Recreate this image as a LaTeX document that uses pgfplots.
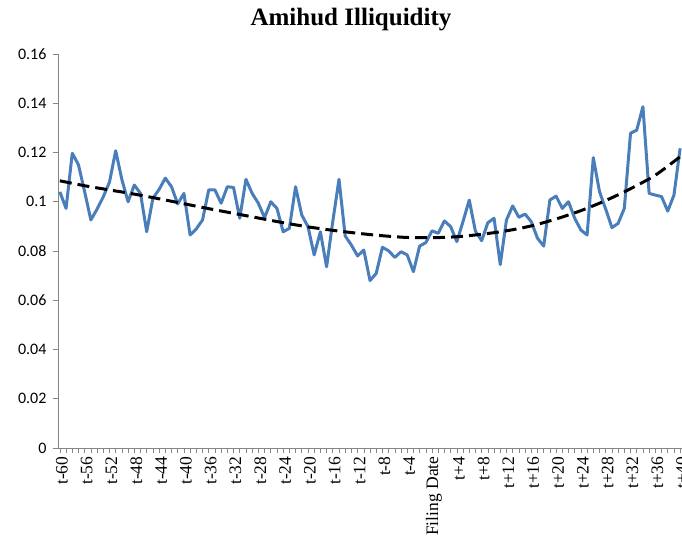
\documentclass[border=0pt]{standalone}
\usepackage{fontspec}
\setmainfont{Liberation Serif}
\newfontfamily\carlito{Carlito}
\usepackage{pgfplots}
\usepackage{pgfplotstable}
\pgfplotsset{compat=1.18}
\definecolor{exblue}{HTML}{4A7EBB}
\definecolor{axgray}{HTML}{868686}

\pgfplotstableread{
i v
0 0.1040
1 0.0973
2 0.1197
3 0.1150
4 0.1040
5 0.0926
6 0.0970
7 0.1020
8 0.1080
9 0.1207
10 0.1090
11 0.1000
12 0.1068
13 0.1034
14 0.0878
15 0.1014
16 0.1050
17 0.1096
18 0.1061
19 0.0991
20 0.1034
21 0.0865
22 0.0890
23 0.0926
24 0.1048
25 0.1048
26 0.0994
27 0.1061
28 0.1058
29 0.0933
30 0.1091
31 0.1034
32 0.0994
33 0.0935
34 0.1000
35 0.0973
36 0.0878
37 0.0892
38 0.1061
39 0.0946
40 0.0899
41 0.0784
42 0.0878
43 0.0736
44 0.0920
45 0.1091
46 0.0861
47 0.0824
48 0.0780
49 0.0804
50 0.0680
51 0.0709
52 0.0815
53 0.0801
54 0.0774
55 0.0797
56 0.0784
57 0.0716
58 0.0820
59 0.0834
60 0.0882
61 0.0872
62 0.0922
63 0.0899
64 0.0838
65 0.0920
66 0.1007
67 0.0880
68 0.0842
69 0.0915
70 0.0933
71 0.0745
72 0.0926
73 0.0983
74 0.0937
75 0.0950
76 0.0919
77 0.0852
78 0.0820
79 0.1007
80 0.1023
81 0.0973
82 0.1000
83 0.0933
84 0.0885
85 0.0865
86 0.1179
87 0.1041
88 0.0970
89 0.0895
90 0.0912
91 0.0973
92 0.1278
93 0.1291
94 0.1386
95 0.1034
96 0.1027
97 0.1021
98 0.0962
99 0.1027
100 0.1217
}\amihud

\pgfplotstableread{
i v
0 0.1085
4 0.1065
8 0.1048
12 0.1031
16 0.1012
20 0.0992
24 0.0972
28 0.0953
32 0.0934
36 0.0915
40 0.0898
44 0.0884
48 0.0872
52 0.0862
56 0.0855
60 0.0854
64 0.0858
68 0.0868
72 0.0882
76 0.0902
80 0.0930
84 0.0964
88 0.1005
92 0.1053
96 0.1108
100 0.1183
}\trend

\begin{document}
\begin{tikzpicture}
\begin{axis}[
  at={(0,0)}, anchor=south west,
  scale only axis, width=624pt, height=394pt,
  xmin=-0.3, xmax=100.3, ymin=0, ymax=0.16,
  axis lines*=left,
  axis line style={draw=axgray, line width=0.8pt},
  tick style={draw=axgray, line width=0.6pt},
  tick align=outside,
  major tick length=5pt, minor tick length=5pt,
  ytick={0,0.02,0.04,0.06,0.08,0.1,0.12,0.14,0.16},
  yticklabels={0,0.02,0.04,0.06,0.08,0.1,0.12,0.14,0.16},
  yticklabel style={font=\carlito\fontsize{16}{16}\selectfont, xshift=-3pt},
  xtick={0,4,...,100},
  minor xtick={0,1,...,100},
  xticklabels={t-60,t-56,t-52,t-48,t-44,t-40,t-36,t-32,t-28,t-24,t-20,t-16,t-12,t-8,t-4,Filing Date,t+4,t+8,t+12,t+16,t+20,t+24,t+28,t+32,t+36,t+40},
  xticklabel style={rotate=90, anchor=east, yshift=-2pt, font=\fontsize{17.5}{18}\selectfont},
  clip=false,
]
\addplot[exblue, line width=3pt, line join=round] table[x=i,y=v] {\amihud};
\addplot[black, line width=3pt, dash pattern=on 12pt off 6pt, smooth] table[x=i,y=v] {\trend};
\end{axis}
\node[font=\bfseries\fontsize{25}{25}\selectfont] at (293pt,428pt) {Amihud Illiquidity};
\pgfresetboundingbox
\path[use as bounding box] (-58pt,-94pt) rectangle (624pt,448pt);
\end{tikzpicture}
\end{document}
